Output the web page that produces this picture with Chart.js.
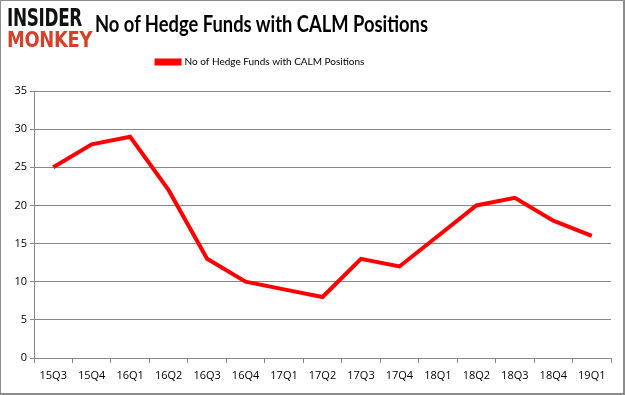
<!DOCTYPE html>
<html>
<head>
<meta charset="utf-8">
<script src="https://cdn.jsdelivr.net/npm/chart.js@4.4.1/dist/chart.umd.min.js"></script>
<style>
  html, body { margin: 0; padding: 0; background: #fff; }
  #wrap { position: relative; width: 625px; height: 395px; overflow: hidden; }
  #frame { position: absolute; left: 0; top: 0; width: 622px; height: 392px; border: 1px solid #8c8c8c; border-right-width: 2px; border-bottom-width: 2px; pointer-events: none; }
  #c { position: absolute; left: 0; top: 0; }
  .logo { position: absolute; font-family: "DejaVu Sans", sans-serif; font-weight: bold; transform-origin: 0 0; white-space: nowrap; line-height: 1; letter-spacing: -0.5px; }
  #l1 { left: 7px; top: 6px; color: #111; font-size: 26px; }
  #l2 { left: 7px; top: 28px; color: #d5402b; font-size: 26px; }
  #title { position: absolute; left: 95px; top: 10px; font-family: Lato, sans-serif; font-weight: bold; font-size: 22px; color: #000; white-space: nowrap; transform-origin: 0 0; }
</style>
</head>
<body>
<div id="wrap">
  <canvas id="c" width="625" height="395"></canvas>
  <div class="logo" id="l1">INSIDER</div>
  <div class="logo" id="l2">MONKEY</div>
  <div id="title">No of Hedge Funds with CALM Positions</div>
  <div id="frame"></div>
</div>
<script>
const categories = ["15Q3","15Q4","16Q1","16Q2","16Q3","16Q4","17Q1","17Q2","17Q3","17Q4","18Q1","18Q2","18Q3","18Q4","19Q1"];
const hedgeFunds = [25, 28, 29, 22, 13, 10, 9, 8, 13, 12, 16, 20, 21, 18, 16];
const yTicks = [0, 5, 10, 15, 20, 25, 30, 35];
const seriesName = "No of Hedge Funds with CALM Positions";

function fitLogo(id, w, h) {
  const el = document.getElementById(id);
  const r = el.getBoundingClientRect();
  el.style.transform = `scale(${w / r.width}, ${h / r.height})`;
}
fitLogo('l1', 75, 24);
fitLogo('l2', 85, 22);
(function () {
  const t = document.getElementById('title');
  const r = t.getBoundingClientRect();
  t.style.transform = `scaleX(${333 / r.width})`;
})();

const tickFont = { family: "'Open Sans', sans-serif", size: 11 };

const legendSpace = {
  id: 'legendSpace',
  beforeLayout(chart) {
    const lg = chart.legend;
    if (lg && !lg._patched) {
      const orig = lg.fit.bind(lg);
      lg.fit = function () { orig(); this.height += 14; };
      lg._patched = true;
    }
  },
  afterLayout(chart) {
    const lg = chart.legend;
    if (lg) { lg.left -= 45; lg.right -= 45; }
  }
};

new Chart(document.getElementById('c'), {
  type: 'line',
  data: {
    labels: categories,
    datasets: [{
      label: seriesName,
      data: hedgeFunds,
      borderColor: '#ff0000',
      backgroundColor: '#ff0000',
      borderWidth: 4,
      pointRadius: 0,
      tension: 0,
      fill: false
    }]
  },
  plugins: [legendSpace],
  options: {
    responsive: false,
    animation: false,
    devicePixelRatio: 1,
    layout: { padding: { left: 0, right: 14, top: 52, bottom: 6 } },
    plugins: {
      tooltip: { enabled: false },
      legend: {
        display: true,
        position: 'top',
        labels: {
          boxWidth: 23,
          boxHeight: 3,
          padding: 5,
          color: '#000',
          font: { family: "Lato, sans-serif", size: 10 }
        }
      }
    },
    scales: {
      x: {
        offset: true,
        grid: { offset: true, drawOnChartArea: false, drawTicks: true, tickLength: 5, color: '#888' },
        border: { color: '#888' },
        ticks: { color: '#000', font: tickFont, maxRotation: 0, autoSkip: false, padding: 6 },
        afterFit: s => { s.height = 31; }
      },
      y: {
        min: 0, max: 35,
        afterBuildTicks: s => { s.ticks = yTicks.map(v => ({ value: v })); },
        grid: { color: '#888', tickLength: 4 },
        border: { color: '#888' },
        ticks: { color: '#000', font: tickFont, padding: 3 },
        afterFit: s => { s.width = 34; }
      }
    }
  }
});
</script>
</body>
</html>
